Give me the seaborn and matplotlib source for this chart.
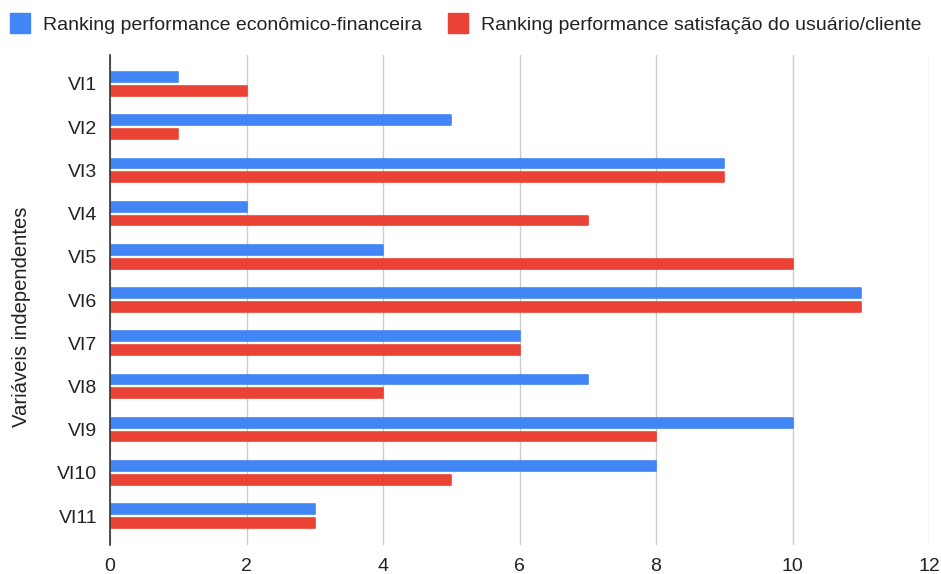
import matplotlib
matplotlib.use("Agg")
import matplotlib.pyplot as plt
from matplotlib.lines import Line2D
import seaborn as sns
import pandas as pd

categories = ["VI1", "VI2", "VI3", "VI4", "VI5", "VI6", "VI7", "VI8", "VI9", "VI10", "VI11"]
econ_fin = [1, 5, 9, 2, 4, 11, 6, 7, 10, 8, 3]
satisfacao = [2, 1, 9, 7, 10, 11, 6, 4, 8, 5, 3]
series_names = ["Ranking performance econômico-financeira",
                "Ranking performance satisfação do usuário/cliente"]
x_ticks = [0, 2, 4, 6, 8, 10, 12]

colors = ["#4285F4", "#EA4335"]

df = pd.DataFrame({
    "var": categories * 2,
    "valor": econ_fin + satisfacao,
    "serie": [series_names[0]] * len(categories) + [series_names[1]] * len(categories),
})

sns.set_theme(style="white")
plt.rcParams["font.family"] = ["Liberation Sans", "DejaVu Sans"]

fig = plt.figure(figsize=(9.41, 5.74), dpi=100)
ax = fig.add_axes([0.1169, 0.0505, 0.8704, 0.8537])

sns.barplot(data=df, y="var", x="valor", hue="serie", orient="h",
            palette=colors, width=0.64, gap=0.3, dodge=True,
            legend=False, ax=ax, saturation=1)

for p in ax.patches:
    p.set_edgecolor(p.get_facecolor())
    p.set_linewidth(1.2)
    p.set_joinstyle("round")

ax.set_xlim(0, 12)
ax.set_ylim(len(categories) - 0.33, -0.67)
ax.set_xticks(x_ticks)
ax.set_xticklabels([str(t) for t in x_ticks])
ax.xaxis.grid(True, color="#cccccc", linewidth=1)
ax.set_axisbelow(True)
for s in ["top", "right", "bottom"]:
    ax.spines[s].set_visible(False)
ax.spines["left"].set_color("#333333")
ax.spines["left"].set_linewidth(1.2)
ax.spines["left"].set_zorder(5)
ax.tick_params(axis="both", length=0, labelsize=14, colors="#222222")
ax.tick_params(axis="y", pad=9)
ax.tick_params(axis="x", pad=9)
ax.set_xlabel("")
ax.set_ylabel("Variáveis independentes", fontsize=14.6, color="#222222")
ax.yaxis.set_label_coords(-0.097, 0.465)

handles = [Line2D([], [], marker="s", linestyle="none", markersize=14.4,
                  markerfacecolor=c, markeredgecolor=c) for c in colors]
fig.legend(handles, series_names, loc="center left",
           bbox_to_anchor=(10 / 941, 1 - 25 / 574),
           ncol=2, frameon=False, fontsize=14.0, handlelength=1.0,
           handletextpad=0.7, columnspacing=1.35, borderpad=0,
           borderaxespad=0, labelcolor="#222222")

fig.savefig("out.png", dpi=100, facecolor="white")
